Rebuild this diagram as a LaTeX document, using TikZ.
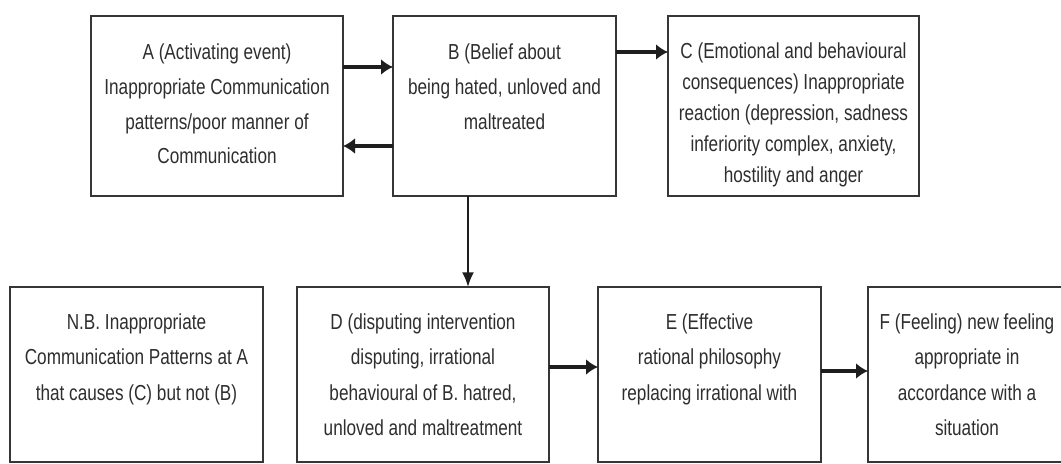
\documentclass[tikz,border=0pt]{standalone}
\usepackage{fontspec}
\setmainfont{Liberation Sans}[FakeStretch=0.79]
\usetikzlibrary{arrows.meta,calc,fit}
\definecolor{txtcol}{HTML}{2E2E2E}
\definecolor{boxcol}{HTML}{363636}
\definecolor{arrcol}{HTML}{1E1E1E}
\newcommand{\fsAB}{\fontsize{16.3pt}{26pt}\selectfont}
\newcommand{\fsC}{\fontsize{16.3pt}{23.25pt}\selectfont}
\newcommand{\fsLow}{\fontsize{16.3pt}{26.6pt}\selectfont}
\tikzset{
  box/.style={draw=boxcol, line width=1.8pt, rectangle, inner sep=0pt, outer sep=0pt},
  txt/.style={anchor=north, inner sep=0pt, outer sep=0pt, align=center, text=txtcol},
  arr/.style={draw=arrcol, line width=2.4pt, -{Latex[length=9pt,width=12pt]}},
  varr/.style={draw=arrcol, line width=1.6pt, -{Latex[length=11pt,width=9pt]}},
}
\begin{document}
\begin{tikzpicture}[x=0.75pt,y=-0.75pt]
\useasboundingbox[fill=white] (0,0) rectangle (1061,464);
\clip (0,0) rectangle (1061,464);
% top row
\node[box, fit={(91,16) (343,196)}] (A) {};
\node[box, fit={(393,16) (616,196)}] (B) {};
\node[box, fit={(668,16) (919,196)}] (C) {};
% bottom row
\node[box, fit={(10,287) (263,462)}] (N) {};
\node[box, fit={(297,287) (549,462)}] (D) {};
\node[box, fit={(598,287) (821,462)}] (E) {};
\node[box, fit={(868,287) (1066,462)}] (F) {};
% texts
\node[txt, font=\fsAB] (At) at ($(A.north)+(0,19.5)$) {\strut A (Activating event)\\Inappropriate Communication\\patterns/poor manner of\\Communication};
\node[txt, font=\fsAB] (Bt) at ($(B.north)+(0,19.5)$) {\strut B (Belief about\\being hated, unloved and\\maltreated};
\node[txt, font=\fsC] (Ct) at ($(C.north)+(0,21)$) {\strut C (Emotional and behavioural\\consequences) Inappropriate\\reaction (depression, sadness\\inferiority complex, anxiety,\\hostility and anger};
\node[txt, font=\fsLow] (Nt) at ($(N.north)+(0,17.5)$) {\strut N.B. Inappropriate\\Communication Patterns at A\\that causes (C) but not (B)};
\node[txt, font=\fsLow] (Dt) at ($(D.north)+(0,17.5)$) {\strut D (disputing intervention\\disputing, irrational\\behavioural of B. hatred,\\unloved and maltreatment};
\node[txt, font=\fsLow] (Et) at ($(E.north)+(0,17.5)$) {\strut E (Effective\\rational philosophy\\replacing irrational with};
\node[txt, font=\fsLow] (Ft) at ($(F.north)+(0,17.5)$) {\strut F (Feeling) new feeling\\appropriate in\\accordance with a\\situation};
% connectors
\draw[arr] ($(A.north east)+(0,51)$) -- ($(B.north west)+(0,51)$);
\draw[arr] ($(B.north west)+(0,130)$) -- ($(A.north east)+(0,130)$);
\draw[arr] ($(B.north east)+(0,36)$) -- ($(C.north west)+(0,36)$);
\coordinate (Bd) at ($(B.south west)+(75,0)$);
\draw[varr] (Bd) -- (Bd |- D.north);
\draw[arr] ($(D.north east)+(0,80)$) -- ($(E.north west)+(0,80)$);
\draw[arr] ($(E.north east)+(0,84)$) -- ($(F.north west)+(0,84)$);
\end{tikzpicture}
\end{document}
